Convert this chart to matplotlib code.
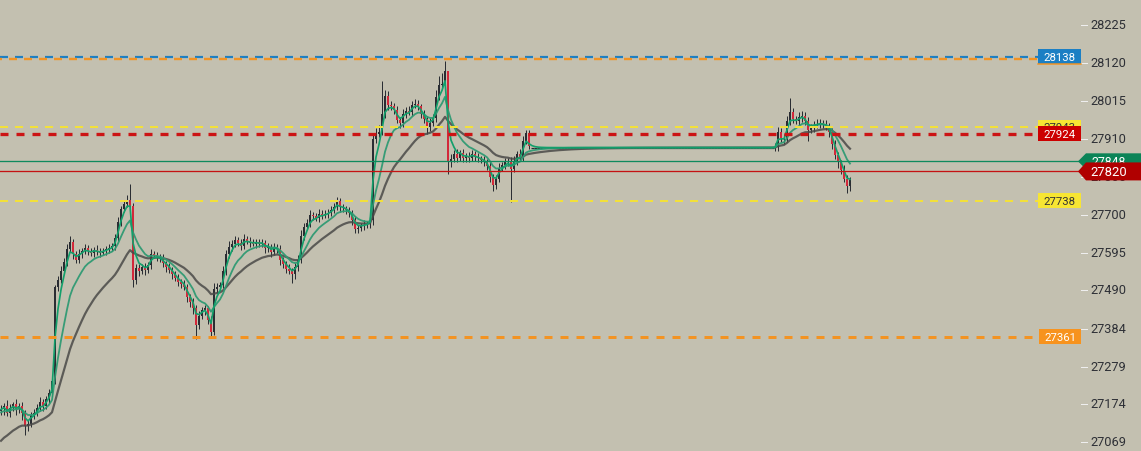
import matplotlib
matplotlib.use('Agg')
import matplotlib.pyplot as plt
from matplotlib import transforms
from matplotlib.patches import Rectangle, Polygon
import numpy as np

plt.rcParams['font.family'] = ['Roboto', 'DejaVu Sans']
plt.rcParams['lines.scale_dashes'] = False

# ---------------- data ----------------
close_a = [
    27160, 27170, 27150, 27165, 27175, 27160, 27170, 27150, 27115, 27120,
    27145, 27150, 27165, 27180, 27170, 27190, 27205, 27240, 27500, 27520,
    27545, 27570, 27605, 27625, 27590, 27575, 27592, 27600, 27608, 27598,
    27594, 27603, 27598, 27594, 27600, 27604, 27608, 27612, 27635, 27680,
    27715, 27730, 27740, 27725, 27520, 27552, 27545, 27555, 27546, 27560,
    27590, 27588, 27583, 27578, 27566, 27556, 27548, 27535, 27524, 27513,
    27508, 27500, 27472, 27458, 27440, 27395, 27420, 27436, 27440, 27408,
    27375, 27495, 27500, 27505, 27545, 27590, 27610, 27620, 27630, 27622,
    27614, 27632, 27628, 27622, 27620, 27623, 27620, 27622, 27607, 27610,
    27596, 27610, 27605, 27575, 27562, 27550, 27545, 27535, 27555, 27575,
    27640, 27665, 27678, 27698, 27696, 27692, 27703, 27698, 27702, 27706,
    27714, 27722, 27738, 27720, 27718, 27712, 27705, 27685, 27660, 27662,
    27668, 27672, 27675, 27685, 27910, 27925, 27930, 27980, 28030, 28005,
    28000, 27990, 27962, 27955, 27978, 27988, 27985, 28005, 28008, 28000,
    27980, 27965, 27942, 27955, 27968, 28025, 28060, 28062, 28098, 27845,
    27855, 27868, 27858, 27870, 27856, 27862, 27858, 27868, 27860, 27856,
    27852, 27846, 27835, 27805, 27782, 27800, 27830, 27838, 27845, 27850,
    27828, 27850, 27868, 27860, 27905, 27926, 27890,
]
wick_up_a = [
    12, 8, 15, 10, 6, 14, 9, 12, 8, 10,
    7, 12, 9, 14, 10, 8, 12, 10, 6, 10,
    12, 9, 14, 15, 8, 10, 12, 9, 11, 8,
    10, 7, 12, 9, 8, 10, 11, 9, 12, 14,
    10, 12, 15, 45, 8, 10, 12, 9, 11, 8,
    14, 10, 8, 9, 12, 7, 10, 8, 9, 11,
    8, 10, 9, 7, 12, 10, 14, 9, 11, 8,
    10, 15, 12, 9, 14, 11, 16, 10, 12, 9,
    11, 14, 8, 10, 12, 9, 11, 10, 8, 12,
    9, 11, 8, 10, 7, 9, 12, 8, 10, 14,
    18, 12, 9, 14, 10, 8, 12, 9, 11, 10,
    9, 10, 12, 8, 10, 7, 9, 8, 11, 10,
    9, 12, 8, 10, 15, 14, 18, 90, 15, 12,
    10, 9, 12, 8, 14, 10, 12, 9, 14, 10,
    8, 11, 9, 12, 10, 20, 25, 30, 28, 0,
    12, 10, 14, 9, 11, 8, 12, 10, 9, 11,
    8, 10, 9, 12, 7, 10, 14, 9, 11, 8,
    10, 12, 9, 14, 12, 9, 8,
]
wick_dn_a = [
    10, 14, 8, 12, 9, 15, 10, 18, 25, 14,
    9, 12, 8, 10, 14, 9, 12, 10, 8, 12,
    10, 8, 12, 9, 14, 10, 8, 12, 9, 11,
    8, 12, 9, 10, 7, 11, 9, 8, 10, 9,
    12, 8, 10, 9, 20, 12, 14, 10, 12, 9,
    10, 8, 12, 9, 11, 14, 10, 12, 9, 11,
    12, 10, 15, 14, 16, 40, 12, 10, 14, 12,
    14, 9, 12, 10, 8, 11, 9, 12, 10, 8,
    12, 9, 10, 11, 8, 12, 10, 9, 14, 10,
    12, 9, 11, 14, 10, 12, 9, 25, 12, 10,
    9, 11, 8, 12, 10, 9, 12, 10, 8, 11,
    9, 10, 8, 12, 10, 9, 11, 14, 12, 10,
    8, 10, 9, 11, 14, 12, 10, 9, 12, 14,
    10, 12, 9, 14, 11, 10, 8, 12, 10, 9,
    12, 10, 18, 11, 9, 10, 8, 12, 10, 31,
    14, 10, 12, 9, 11, 10, 12, 9, 11, 10,
    9, 12, 10, 14, 15, 12, 10, 9, 11, 10,
    94, 10, 12, 9, 11, 10, 8,
]
flat_close = [
    27886, 27886, 27886, 27886, 27886, 27886, 27886, 27886, 27886, 27886,
    27886, 27886, 27886, 27886, 27886, 27886, 27886, 27886, 27886, 27886,
    27886, 27886, 27886, 27886, 27886, 27886, 27886, 27886, 27886, 27886,
    27886, 27886, 27886, 27886, 27886, 27886, 27886, 27886, 27886, 27886,
    27886, 27886, 27886, 27886, 27886, 27886, 27886, 27886, 27886, 27886,
    27886, 27886, 27886, 27886, 27886, 27886, 27886, 27886, 27886, 27886,
    27886, 27886, 27886, 27886, 27886, 27886, 27886, 27886, 27886, 27886,
    27886, 27886, 27886, 27886, 27886, 27886, 27886, 27886, 27886, 27886,
    27886,
]
close_c = [
    27888, 27930, 27912, 27910, 27960, 27985, 27965, 27960, 27970, 27975,
    27960, 27935, 27940, 27950, 27952, 27955, 27950, 27945, 27930, 27895,
    27865, 27845, 27825, 27800, 27780, 27795,
]
wick_up_c = [10, 14, 9, 12, 15, 38, 12, 10, 14, 12, 9, 10, 12, 9, 14, 10,
             8, 12, 10, 9, 12, 10, 8, 12, 9, 10]
wick_dn_c = [9, 12, 10, 14, 8, 12, 10, 9, 11, 12, 10, 30, 9, 11, 10, 12,
             9, 10, 14, 12, 10, 15, 12, 10, 20, 14]

first_open = 27155
fast_span, mid_span, slow_span = 3, 9, 22
mid_seed, slow_seed = 27150, 27065

tick_values = [27069, 27174, 27279, 27384, 27490, 27595, 27700, 27805,
               27910, 28015, 28120, 28225]

# horizontal levels
level_blue = 28138
level_orange_top = 28132
level_yellow_hi = 27943
level_red_dash = 27924
level_green_last = 27848
level_red_last = 27820
level_yellow_lo = 27738
level_orange_lo = 27361

# ---------------- styling ----------------
W, H = 1141, 452
AX_RIGHT = 1038
BG = '#c3c0b0'
UP = '#2a2d33'
DN = '#d2283a'
WICK = '#2a2d33'
FAST = '#139f6b'
MID = '#2f9a73'
SLOW = '#4a4a48'

Y_TOP = 28298.0
Y_BOT = 27044.9
PPX = (Y_TOP - Y_BOT) / H
pt = 0.72  # points per pixel at dpi 100

fig = plt.figure(figsize=(W / 100, H / 100), dpi=100)
fig.patch.set_facecolor(BG)
ax = fig.add_axes([0, 0, AX_RIGHT / W, 1])
ax.set_facecolor(BG)
ax.set_xlim(-1 / 3, AX_RIGHT / 3 - 1 / 3)
ax.set_ylim(Y_BOT, Y_TOP)
ax.axis('off')
bt = transforms.blended_transform_factory(fig.transFigure, ax.transData)

closes = np.array(close_a + flat_close + close_c, dtype=float)
n = len(closes)
opens = np.concatenate([[first_open], closes[:-1]])
wu = np.array(wick_up_a + [0] * len(flat_close) + wick_up_c, dtype=float)
wd = np.array(wick_dn_a + [0] * len(flat_close) + wick_dn_c, dtype=float)
highs = np.maximum(opens, closes) + wu
lows = np.minimum(opens, closes) - wd
idx = np.arange(n)
flat_start = len(close_a)
flat_end = flat_start + len(flat_close)
active = np.array([(i < flat_start or i >= flat_end) for i in idx])

# candles
ax.vlines(idx[active], lows[active], highs[active], color=WICK, lw=1 * pt, zorder=2)
btm = np.minimum(opens, closes)
top = np.maximum(opens, closes)
small = (top - btm) < 3
mid_b = (top + btm) / 2
btm = np.where(small, mid_b - 1.5, btm)
top = np.where(small, mid_b + 1.5, top)
up = closes >= opens
m_up = active & up
m_dn = active & ~up
ax.vlines(idx[m_up], btm[m_up], top[m_up], color=UP, lw=2 * pt, zorder=3)
ax.vlines(idx[m_dn], btm[m_dn], top[m_dn], color=DN, lw=2 * pt, zorder=3)
ax.hlines(closes[~active], idx[~active] - 0.5, idx[~active] + 0.5, color=UP, lw=1.2 * pt, zorder=2)


def ema(vals, span, seed=None):
    a = 2.0 / (span + 1)
    prev = vals[0] if seed is None else seed
    out = []
    for v in vals:
        prev = prev + a * (v - prev)
        out.append(prev)
    return np.array(out)


ax.plot(idx, ema(closes, slow_span, slow_seed), color=SLOW, lw=2.2 * pt, alpha=0.85, zorder=4)
ax.plot(idx, ema(closes, mid_span, mid_seed), color=MID, lw=1.8 * pt, alpha=0.95, zorder=5)
ax.plot(idx, ema(closes, fast_span), color=FAST, lw=1.7 * pt, zorder=6)

# horizontal levels
ax.axhline(level_blue, color='#1e7fc2', lw=2.2 * pt,
           linestyle=(0, (8 * pt, 7 * pt)), zorder=7)
ax.axhline(level_orange_top, color='#f39322', lw=2.4 * pt,
           linestyle=(6 * pt, (8 * pt, 7 * pt)), zorder=7)
ax.axhline(level_yellow_hi, color='#f2e03a', lw=2 * pt,
           linestyle=(0, (8 * pt, 7 * pt)), zorder=7)
ax.axhline(level_red_dash, color='#cc1414', lw=3.3 * pt,
           linestyle=(0, (8 * pt, 8 * pt)), zorder=7)
ax.axhline(level_yellow_lo, color='#f2e03a', lw=2 * pt,
           linestyle=(0, (8 * pt, 7 * pt)), zorder=7)
ax.axhline(level_orange_lo, color='#f39322', lw=3 * pt,
           linestyle=(0, (8 * pt, 8 * pt)), zorder=7)
ax.axhline(level_green_last, xmin=0, xmax=1080 / AX_RIGHT, color='#0f8a5d',
           lw=1.3 * pt, zorder=7, clip_on=False)
ax.axhline(level_red_last, xmin=0, xmax=1080 / AX_RIGHT, color='#c41212',
           lw=1.3 * pt, zorder=7, clip_on=False)

# right scale
for tv in tick_values:
    ax.plot([1081 / W, 1087 / W], [tv, tv], transform=bt, color='#eeeeee',
            lw=1 * pt, clip_on=False, zorder=8)
    ax.text(1090 / W, tv + 0.5 * PPX, f'{tv}', transform=bt, ha='left', va='center',
            fontsize=9.2, color='#2e3036', clip_on=False, zorder=8)


def box(price, x0, x1, h, fc, label, tc, fs=8.2, z=9, edge=None):
    r = Rectangle((x0 / W, price - h / 2 * PPX), (x1 - x0) / W, h * PPX,
                  transform=bt, facecolor=fc, edgecolor='none', clip_on=False, zorder=z)
    ax.add_patch(r)
    if edge is not None:
        ax.plot([x0 / W, x1 / W], [price - h / 2 * PPX, price - h / 2 * PPX],
                transform=bt, color=edge, lw=1.5 * pt, clip_on=False, zorder=z)
    ax.text((x0 + x1) / 2 / W, price, label, transform=bt, ha='center', va='center',
            fontsize=fs, color=tc, clip_on=False, zorder=z + 0.5)


def arrow_box(price, h, fc, label, fs, z):
    top_, bot_ = price + h / 2 * PPX, price - h / 2 * PPX
    pts = [(1078 / W, price), (1086 / W, top_), (1141 / W, top_), (1141 / W, bot_), (1086 / W, bot_)]
    ax.add_patch(Polygon(pts, closed=True, transform=bt, facecolor=fc,
                         edgecolor='none', clip_on=False, zorder=z))
    ax.text(1109 / W, price, label, transform=bt, ha='center', va='center',
            fontsize=fs, color='white', clip_on=False, zorder=z + 0.5)


box(level_blue, 1038, 1081, 15, '#1b7fc4', str(level_blue), 'white', edge='#f39322')
box(level_yellow_hi, 1038, 1081, 14, '#f7e533', str(level_yellow_hi), '#333333', z=9)
box(level_red_dash, 1038, 1081, 15, '#cc0000', str(level_red_dash), 'white', z=10)
box(level_yellow_lo, 1038, 1081, 15, '#f7e533', str(level_yellow_lo), '#333333')
box(level_orange_lo, 1039, 1081, 15, '#f7931e', str(level_orange_lo), 'white')
arrow_box(level_green_last, 16, '#0b8457', str(level_green_last), 8.8, 11)
arrow_box(level_red_last, 18, '#b00000', str(level_red_last), 9.4, 12)

fig.savefig('out.png', dpi=100, facecolor=BG)
